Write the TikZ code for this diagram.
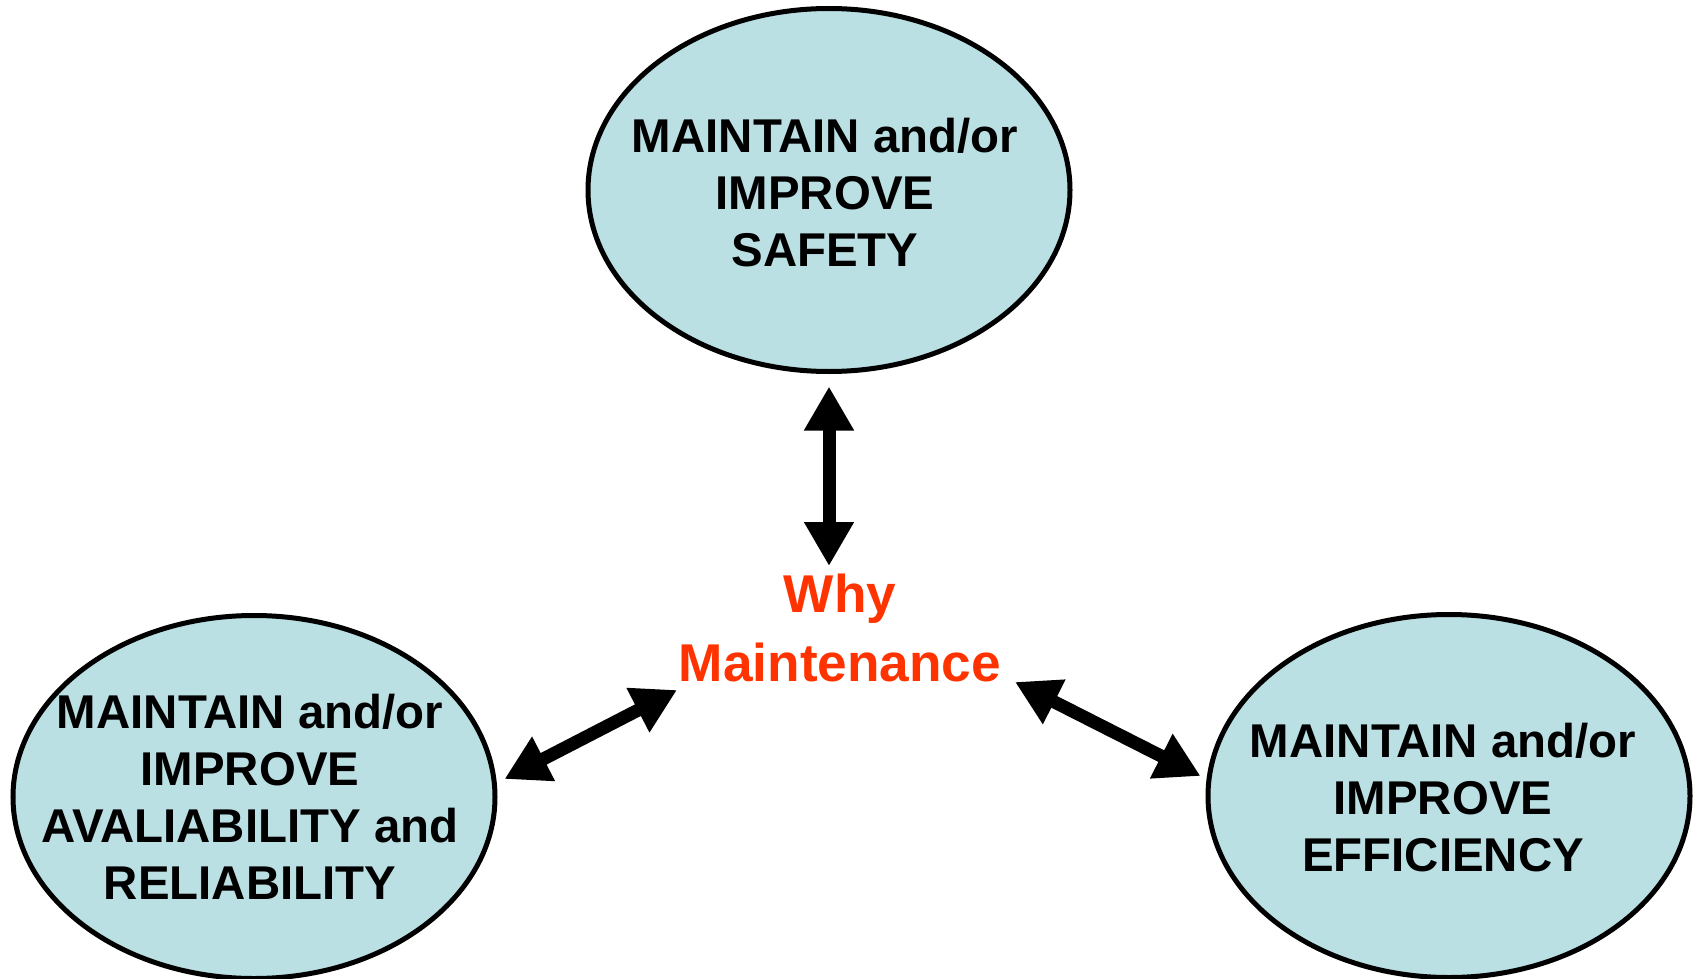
\documentclass[tikz,border=0pt]{standalone}
\usepackage{fontspec}
\setmainfont{Liberation Sans}
\usetikzlibrary{shapes.geometric,arrows.meta}
\definecolor{goalfill}{RGB}{186,224,228}
\definecolor{whyred}{RGB}{255,51,0}
\tikzset{
  goal/.style={ellipse, draw=black, line width=2.5pt, fill=goalfill,
    minimum width=241pt, minimum height=181.5pt, inner sep=0pt},
  goaltext/.style={align=center, inner sep=0pt,
    font=\bfseries\fontsize{23.7pt}{28.5pt}\selectfont},
  whytext/.style={align=center, inner sep=0pt, text=whyred,
    font=\bfseries\fontsize{26.6pt}{34.5pt}\selectfont},
  bigarrow/.style={line width=6.5pt,
    {Triangle[width=23.5pt,length=22pt]}-{Triangle[width=23.5pt,length=22pt]}}
}
\begin{document}
\begin{tikzpicture}[x=0.5pt,y=-0.5pt]
  \useasboundingbox (0,0) rectangle (1698,979);

  % the three goals
  \node[goal] (safety) at (829,190) {};
  \node[goal] (avail)  at (254,797) {};
  \node[goal] (eff)    at (1449,796) {};

  \node[goaltext] (safetytxt) at (825,193) {MAINTAIN and/or\\IMPROVE\\SAFETY};
  \node[goaltext] (availtxt)  at (250,797) {MAINTAIN and/or\\IMPROVE\\AVALIABILITY and\\RELIABILITY};
  \node[goaltext] (efftxt)    at (1443,798) {MAINTAIN and/or\\IMPROVE\\EFFICIENCY};

  % centre question
  \node[whytext] (why) at (840,628) {Why\\Maintenance};

  % double-headed connectors
  \draw[bigarrow] ([shift={(0,12.5)}]safety.south) -- ([shift={(-11,-62)}]why.center);
  \draw[bigarrow] ([shift={(7,-18)}]avail.east) -- ([shift={(-163,62)}]why.center);
  \draw[bigarrow] ([shift={(175,54)}]why.center) -- ([shift={(-5,-20)}]eff.west);
\end{tikzpicture}
\end{document}
